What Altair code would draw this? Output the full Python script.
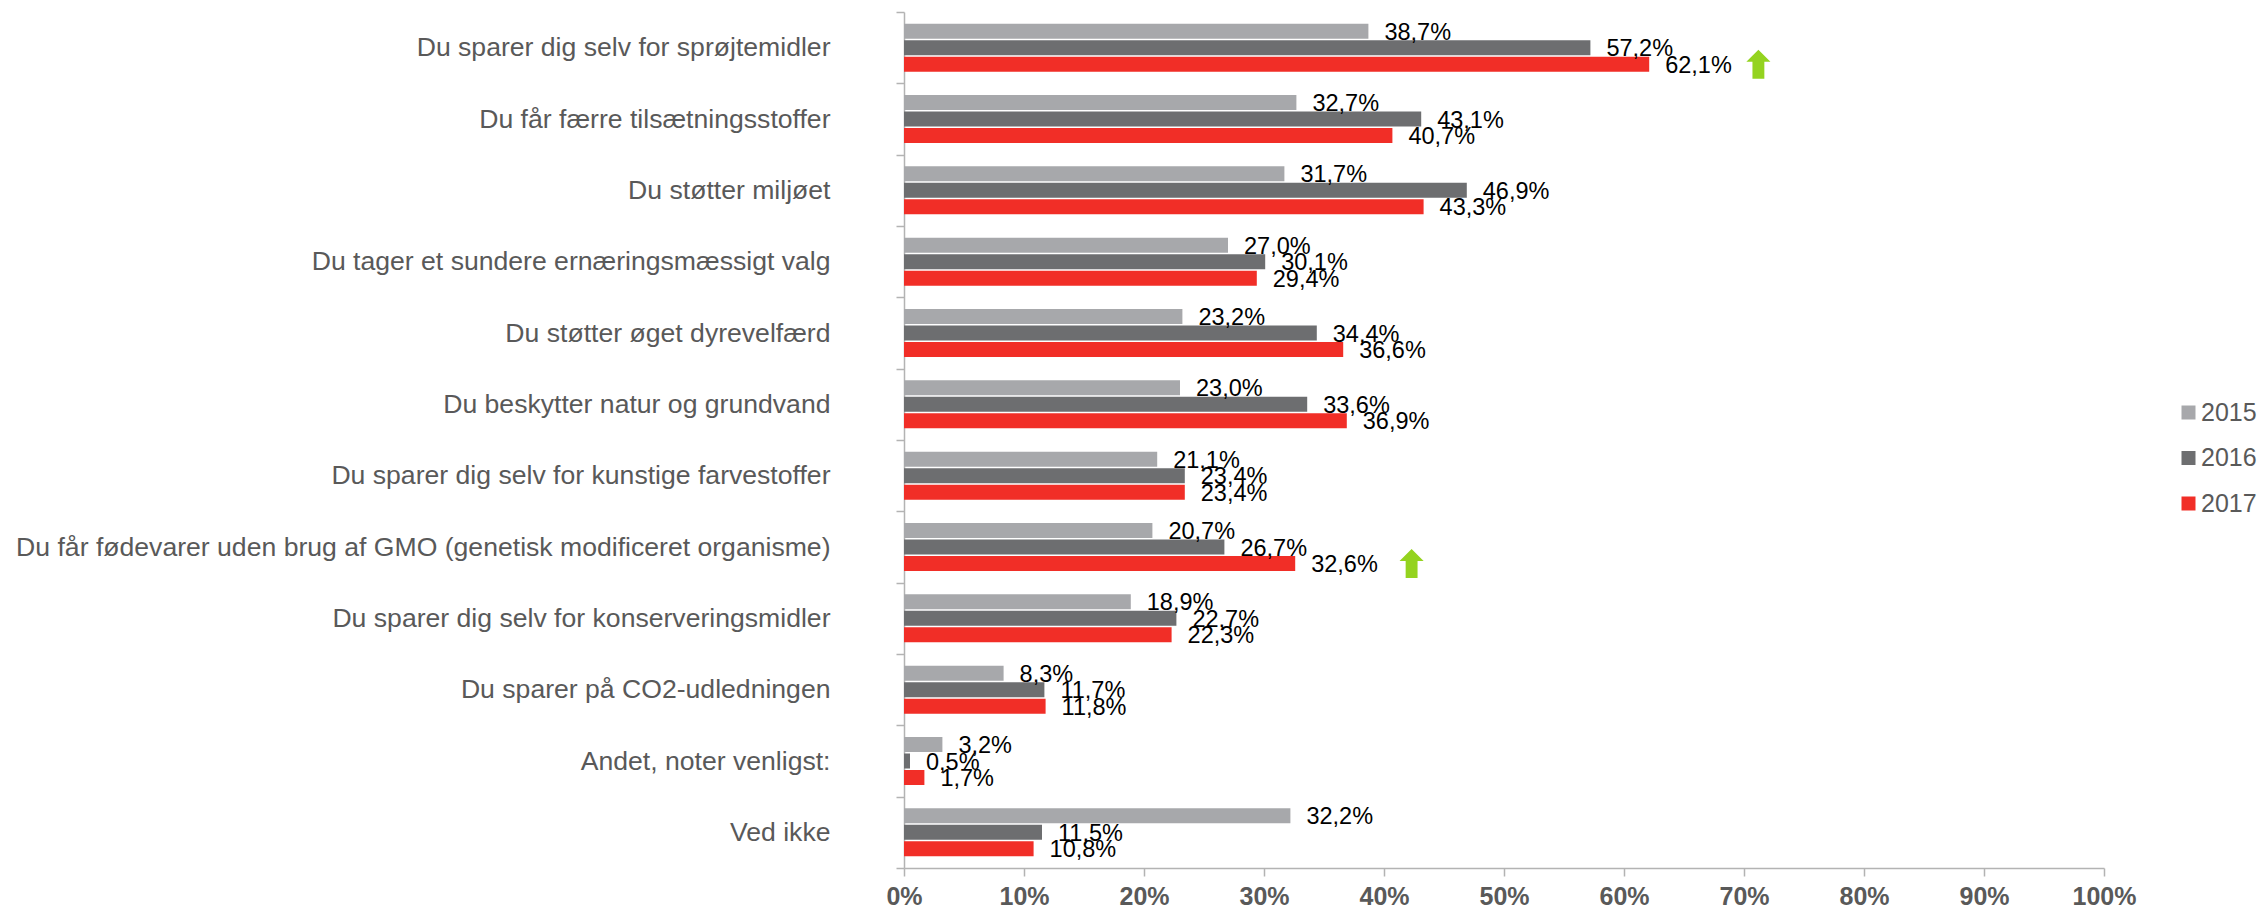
import altair as alt
import pandas as pd

categories = [
    "Du sparer dig selv for sprøjtemidler",
    "Du får færre tilsætningsstoffer",
    "Du støtter miljøet",
    "Du tager et sundere ernæringsmæssigt valg",
    "Du støtter øget dyrevelfærd",
    "Du beskytter natur og grundvand",
    "Du sparer dig selv for kunstige farvestoffer",
    "Du får fødevarer uden brug af GMO (genetisk modificeret organisme)",
    "Du sparer dig selv for konserveringsmidler",
    "Du sparer på CO2-udledningen",
    "Andet, noter venligst:",
    "Ved ikke",
]
years = ["2015", "2016", "2017"]
v2015 = [38.7, 32.7, 31.7, 27.0, 23.2, 23.0, 21.1, 20.7, 18.9, 8.3, 3.2, 32.2]
v2016 = [57.2, 43.1, 46.9, 30.1, 34.4, 33.6, 23.4, 26.7, 22.7, 11.7, 0.5, 11.5]
v2017 = [62.1, 40.7, 43.3, 29.4, 36.6, 36.9, 23.4, 32.6, 22.3, 11.8, 1.7, 10.8]
colors = ["#A7A8AB", "#6D6E70", "#F12E27"]
arrow_categories = [categories[0], categories[7]]
arrow_x = [71.2, 42.3]
arrow_year = ["2017", "2017"]
x_ticks = list(range(0, 101, 10))

FONT = "Liberation Sans"
ARROW = "M0,-1 L0.83,-0.17 L0.41,-0.17 L0.41,1 L-0.41,1 L-0.41,-0.17 L-0.83,-0.17 Z"

rows = []
for year, vals in zip(years, [v2015, v2016, v2017]):
    for c, v in zip(categories, vals):
        rows.append({"cat": c, "year": year, "value": v,
                     "label": f"{v:.1f}%".replace(".", ",")})
df = pd.DataFrame(rows)
arrows = pd.DataFrame({"cat": arrow_categories, "x": arrow_x, "year": arrow_year})

y_enc = alt.Y("cat:N", sort=categories, title=None,
              scale=alt.Scale(paddingInner=0, paddingOuter=0),
              axis=alt.Axis(labelFont=FONT, labelFontSize=26.6, labelColor="#595959",
                            labelLimit=1000, labelPadding=66, tickBand="extent",
                            tickSize=8, tickColor="#B3B3B3", tickWidth=1.5,
                            domainColor="#B3B3B3", domainWidth=1.5, grid=False))
x_scale = alt.Scale(domain=[0, 100], nice=False, zero=True)
off_enc = alt.YOffset("year:N", sort=years,
                      scale=alt.Scale(paddingInner=0.09, paddingOuter=0.706))

bars = alt.Chart(df).mark_bar(cornerRadius=0).encode(
    x=alt.X("value:Q", scale=x_scale, title=None,
            axis=alt.Axis(values=x_ticks, labelExpr="datum.value + '%'",
                          labelFont=FONT, labelFontSize=25, labelFontWeight="bold",
                          labelColor="#595959", labelPadding=8, tickSize=8,
                          tickColor="#B3B3B3", tickWidth=1.5, domainColor="#B3B3B3",
                          domainWidth=1.5, grid=False, labelFlush=False)),
    y=y_enc,
    yOffset=off_enc,
    color=alt.Color("year:N", sort=years,
                    scale=alt.Scale(domain=years, range=colors),
                    legend=alt.Legend(orient="none", legendX=1272, legendY=388, title=None,
                                      symbolType="square", symbolSize=196,
                                      symbolStrokeWidth=0, labelFont=FONT, labelFontSize=25,
                                      labelColor="#595959", labelOffset=0, rowPadding=19.5,
                                      padding=0)),
)

labels = alt.Chart(df).mark_text(align="left", baseline="middle", dx=16, dy=1.5, font=FONT,
                                 fontSize=23.5, color="#000000").encode(
    x=alt.X("value:Q", scale=x_scale),
    y=y_enc,
    yOffset=off_enc,
    text="label:N",
)

arrow_marks = alt.Chart(arrows).mark_point(shape=ARROW, filled=True, size=841, opacity=1,
                                           color="#94D31F", strokeWidth=0).encode(
    x=alt.X("x:Q", scale=x_scale),
    y=y_enc,
    yOffset=off_enc,
)

chart = (bars + labels + arrow_marks).properties(
    width=1200,
    height=856,
    autosize=alt.AutoSizeParams(type="none"),
    padding={"left": 896, "top": 4, "right": 153, "bottom": 37},
    background="#FFFFFF",
).configure_view(stroke=None)

chart.save("out.html", embed_options={"renderer": "svg", "actions": False})
